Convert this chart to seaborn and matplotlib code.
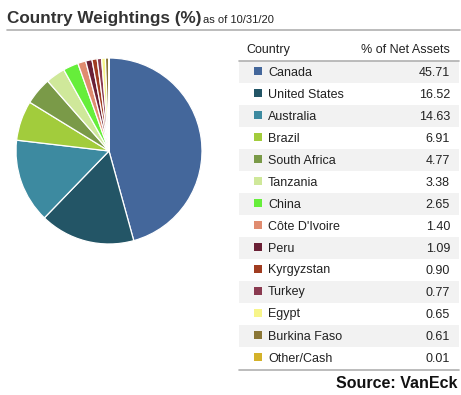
import matplotlib
matplotlib.use("Agg")
import matplotlib.pyplot as plt
from matplotlib.patches import Rectangle
import seaborn as sns

countries = ["Canada", "United States", "Australia", "Brazil", "South Africa",
             "Tanzania", "China", "Côte D'Ivoire", "Peru", "Kyrgyzstan",
             "Turkey", "Egypt", "Burkina Faso", "Other/Cash"]
weights = [45.71, 16.52, 14.63, 6.91, 4.77, 3.38, 2.65, 1.40, 1.09, 0.90,
           0.77, 0.65, 0.61, 0.01]
colors = ["#44679b", "#235566", "#3d8aa0", "#a2cc3c", "#7a9a48", "#cfe89a",
          "#66ee3a", "#e08c70", "#6a2035", "#a03c20", "#8a3a50", "#f7f58a",
          "#8a7636", "#d4b22a"]
title = "Country Weightings (%)"
subtitle = "as of 10/31/20"
col_headers = ["Country", "% of Net Assets"]
source = "Source: VanEck"

sns.set_theme(style="white")
plt.rcParams["font.family"] = ["Liberation Sans", "DejaVu Sans"]

W, H = 461, 395
fig = plt.figure(figsize=(W / 100, H / 100), dpi=100)
fig.patch.set_facecolor("white")

# overlay axes in pixel coordinates
ov = fig.add_axes([0, 0, 1, 1])
ov.set_xlim(0, W)
ov.set_ylim(H, 0)
ov.axis("off")

# title
ov.text(7, 23, title, fontsize=12.3, fontweight="bold", color="#333333", va="baseline")
ov.text(203, 23, subtitle, fontsize=8, color="#222222", va="baseline")
ov.plot([7, 460], [30, 30], color="#b0b0b0", lw=1.2)

# table
x0, x1 = 239, 459
top = 61
rh = 22
ov.text(246, 50, col_headers[0], fontsize=9, color="#222222", va="center")
ov.text(450, 50, col_headers[1], fontsize=9, color="#222222", va="center", ha="right")
for i, (c, v, col) in enumerate(zip(countries, weights, colors)):
    y = top + i * rh
    if i % 2 == 0:
        ov.add_patch(Rectangle((x0, y), x1 - x0, rh, color="#f2f2f2", lw=0, zorder=0))
    ov.add_patch(Rectangle((254, y + 6), 8, 8, color=col, lw=0, zorder=2))
    ov.text(268, y + 11.5, c, fontsize=9, color="#222222", va="center")
    ov.text(450, y + 11.5, f"{v:.2f}", fontsize=9, color="#222222", va="center", ha="right")
ov.plot([x0, x1], [top, top], color="#b0b0b0", lw=1.2, zorder=3)
ov.plot([x0, x1], [top + len(countries) * rh + 1, top + len(countries) * rh + 1],
        color="#b0b0b0", lw=1.2, zorder=3)

ov.text(457, 384, source, fontsize=11.5, fontweight="bold", color="#111111",
        va="center", ha="right")

# pie
cx, cy, r = 109, 151, 93
pax = fig.add_axes([(cx - r) / W, 1 - (cy + r) / H, 2 * r / W, 2 * r / H])
pax.pie(weights, colors=colors, startangle=90, counterclock=False, radius=1,
        wedgeprops=dict(edgecolor="white", linewidth=0.9))
pax.set_xlim(-1, 1)
pax.set_ylim(-1, 1)
pax.set_aspect("auto")
pax.axis("off")

fig.savefig("out.png", dpi=100, facecolor="white")
